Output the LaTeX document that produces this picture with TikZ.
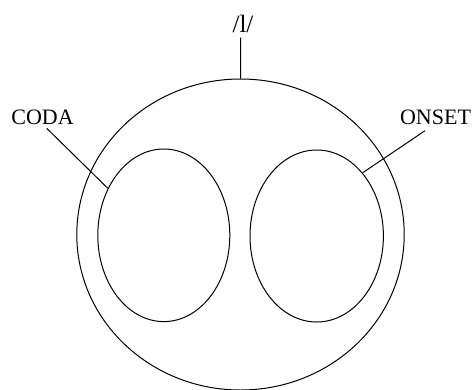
\documentclass[tikz,border=0pt]{standalone}
\usepackage{fontspec}
\setmainfont{Liberation Serif}
\usetikzlibrary{shapes.geometric}
\begin{document}
\begin{tikzpicture}[x=1pt,y=-1pt,
  ring/.style={draw, ellipse, inner sep=0pt, line width=1pt},
  lab/.style={inner sep=0pt, font=\fontsize{22}{24}\selectfont},
  lead/.style={line width=1pt}]
\clip (0,0) rectangle (473,389);
\useasboundingbox (0,0) rectangle (473,389);
\node[ring, minimum width=327.4pt, minimum height=311pt] (syll) at (240.5,234.5) {};
\node[ring, minimum width=132pt, minimum height=172.6pt] (coda) at (163.8,235.3) {};
\node[ring, minimum width=133.4pt, minimum height=172pt] (onset) at (316.7,236) {};
\node[lab, font=\fontsize{25}{27}\selectfont] (ltext) at (243,24) {/l/};
\node[lab] (codatext) at (42.5,117) {CODA};
\node[lab] (onsettext) at (435.5,117) {ONSET};
\coordinate (lend) at (240.7,37.5);
\coordinate (cend) at (46.7,128.3);
\coordinate (oend) at (425,130.7);
\draw[lead] (lend) -- (syll.north);
\draw[lead] (cend) -- (coda.140);
\draw[lead] (oend) -- (onset.54.5);
\end{tikzpicture}
\end{document}
